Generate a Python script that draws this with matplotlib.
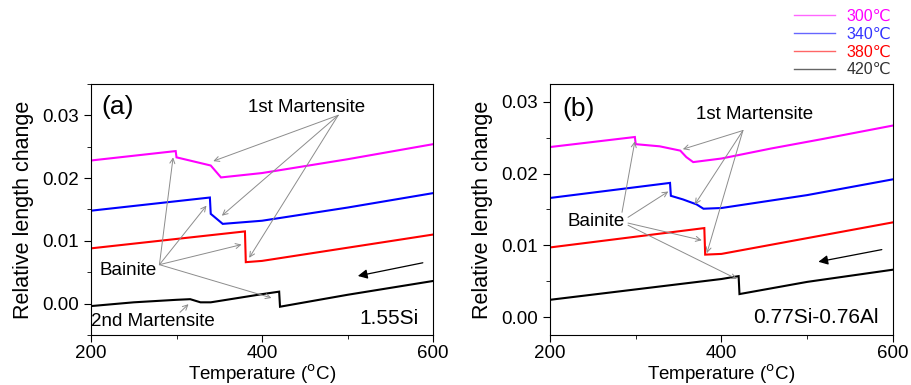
import matplotlib
matplotlib.use("Agg")
import matplotlib.pyplot as plt
from matplotlib.lines import Line2D
from matplotlib.ticker import MultipleLocator, FormatStrFormatter

plt.rcParams['font.family'] = ['Liberation Sans', 'DejaVu Sans']

# isothermal holding temperatures
labels = ['300\u2103', '340\u2103', '380\u2103', '420\u2103']
colors = ['#ff00ff', '#0000ff', '#ff0000', '#000000']

# (a) 1.55Si  -- temperature (C) / relative length change
a_300_T = [200, 299, 300, 340, 352, 400, 500, 600]
a_300_y = [0.0228, 0.0243, 0.0233, 0.0220, 0.0201, 0.0208, 0.0230, 0.0254]
a_340_T = [200, 339, 340, 354, 400, 500, 600]
a_340_y = [0.0148, 0.0169, 0.0143, 0.0127, 0.0132, 0.0153, 0.0176]
a_380_T = [200, 380, 381, 400, 500, 600]
a_380_y = [0.0088, 0.0115, 0.0066, 0.0068, 0.0089, 0.0110]
a_420_T = [200, 250, 300, 316, 328, 340, 400, 420, 421, 500, 600]
a_420_y = [-0.0004, 0.0002, 0.0006, 0.0007, 0.0002, 0.0002, 0.0015, 0.0019, -0.0005, 0.0014, 0.0036]

# (b) 0.77Si-0.76Al
b_300_T = [200, 299, 300, 328, 352, 359, 367, 400, 458, 517, 600]
b_300_y = [0.0237, 0.0251, 0.0241, 0.0238, 0.0232, 0.0223, 0.0216, 0.0221, 0.0235, 0.0248, 0.0267]
b_340_T = [200, 340, 341, 355, 371, 379, 400, 500, 600]
b_340_y = [0.0166, 0.0187, 0.0169, 0.0164, 0.0157, 0.0151, 0.0152, 0.0170, 0.0192]
b_380_T = [200, 380, 381, 400, 500, 600]
b_380_y = [0.0097, 0.0124, 0.0087, 0.0088, 0.0110, 0.0132]
b_420_T = [200, 400, 420, 421, 500, 600]
b_420_y = [0.0024, 0.0053, 0.0057, 0.0032, 0.0049, 0.0066]

panels = [
    dict(curves=[(a_300_T, a_300_y), (a_340_T, a_340_y), (a_380_T, a_380_y), (a_420_T, a_420_y)],
         ylim=(-0.005, 0.035), tag='(a)', tag_xy=(212, 0.0313), name='1.55Si', name_xy=(583, -0.0023),
         mart_text=(452, 0.0313), mart_from=(489, 0.0300),
         mart_to=[(343, 0.0227), (353, 0.0140), (385, 0.0073)],
         bain_text=(210, 0.0052), bain_from=[(280, 0.0062)] * 4,
         bain_to=[(296, 0.0233), (335, 0.0156), (376, 0.0094), (411, 0.0009)],
         cool_arrow=((588, 0.0065), (512, 0.0044))),
    dict(curves=[(b_300_T, b_300_y), (b_340_T, b_340_y), (b_380_T, b_380_y), (b_420_T, b_420_y)],
         ylim=(-0.0025, 0.0325), tag='(b)', tag_xy=(215, 0.0290), name='0.77Si-0.76Al', name_xy=(583, 0.0),
         mart_text=(439, 0.0282), mart_from=(425, 0.0260),
         mart_to=[(355, 0.0234), (369, 0.0157), (383, 0.0089)],
         bain_text=(220, 0.0133),
         bain_from=[(284, 0.0146), (291, 0.0139), (291, 0.0131), (291, 0.0128)],
         bain_to=[(299, 0.0245), (338, 0.0175), (377, 0.0107), (418, 0.0053)],
         cool_arrow=((587, 0.0094), (513, 0.0077))),
]

fig = plt.figure(figsize=(9.11, 3.85), dpi=100)
axes = [fig.add_axes([0.0999, 0.130, 0.3755, 0.652]),
        fig.add_axes([0.6037, 0.130, 0.3765, 0.652])]

gray = dict(arrowstyle='->', color='#8c8c8c', lw=0.7, shrinkA=0, shrinkB=0, mutation_scale=9)

for ax, p in zip(axes, panels):
    for (T, y), c in zip(p['curves'], colors):
        ax.plot(T, y, color=c, lw=1.5, solid_joinstyle='miter')
    ax.set_xlim(200, 600)
    ax.set_ylim(*p['ylim'])
    ax.xaxis.set_major_locator(MultipleLocator(200))
    ax.xaxis.set_minor_locator(MultipleLocator(100))
    ax.yaxis.set_major_locator(MultipleLocator(0.01))
    ax.yaxis.set_minor_locator(MultipleLocator(0.005))
    ax.yaxis.set_major_formatter(FormatStrFormatter('%.2f'))
    ax.tick_params(which='major', direction='out', length=5, labelsize=13.5, top=False, right=False)
    ax.tick_params(which='minor', direction='out', length=3, top=False, right=False)
    ax.tick_params(axis='x', pad=2.5)
    ax.set_xlabel('Temperature ($^{\\mathrm{o}}$C)', fontsize=13.5, labelpad=0)
    ax.set_ylabel('Relative length change', fontsize=15.5, labelpad=6)

    ax.text(*p['tag_xy'], p['tag'], fontsize=19, va='center', ha='left')
    ax.text(*p['name_xy'], p['name'], fontsize=15, va='center', ha='right')

    ax.text(*p['mart_text'], '1st Martensite', fontsize=13.5, va='center', ha='center')
    for xy in p['mart_to']:
        ax.annotate('', xy=xy, xytext=p['mart_from'], arrowprops=gray)

    ax.text(*p['bain_text'], 'Bainite', fontsize=13.5, va='center', ha='left')
    for src, dst in zip(p['bain_from'], p['bain_to']):
        ax.annotate('', xy=dst, xytext=src, arrowprops=gray)

    start, end = p['cool_arrow']
    ax.annotate('', xy=end, xytext=start,
                arrowprops=dict(arrowstyle='-|>', color='black', lw=0.9, shrinkA=0, shrinkB=0,
                                mutation_scale=14))

axes[0].text(200, -0.0029, '2nd Martensite', fontsize=13.5, va='center', ha='left')
axes[0].annotate('', xy=(314, -0.0001), xytext=(304, -0.0014), arrowprops=gray)

handles = [Line2D([], [], color=c, lw=1.0, alpha=0.6) for c in colors]
fig.legend(handles, labels, loc='upper left', bbox_to_anchor=(0.868, 0.985), frameon=False,
           fontsize=11.5, labelcolor=['#ff00ff', '#3333ff', '#ff0000', '#333333'],
           handlelength=2.6, handletextpad=0.7, labelspacing=0.17, borderpad=0.2, borderaxespad=0)

fig.savefig('out.png', dpi=100)
